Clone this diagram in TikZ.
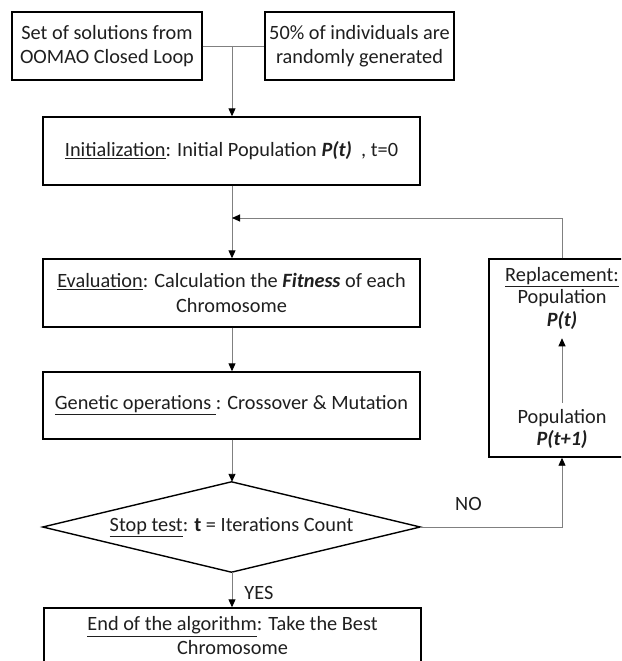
\documentclass[tikz,border=0pt]{standalone}
\usepackage{fontspec}
\setmainfont{Carlito}
\usetikzlibrary{arrows.meta,calc}
\tikzset{
  box/.style={draw=black, line width=1.4pt, fill=white, minimum width=377pt, minimum height=68pt, align=center, inner sep=2pt, text=black!88},
  smallbox/.style={box, minimum width=190pt},
  conn/.style={draw=black!50, line width=0.9pt},
  arr/.style={conn, -{Triangle[width=7pt,length=8pt,color=black]}},
  lbl/.style={align=center, inner sep=1pt, text=black!88},
}
\newcommand{\ulx}[1]{\underline{#1}}
\newcommand{\bi}[1]{\textbf{\textit{#1}}}
\begin{document}
\begin{tikzpicture}[x=1pt,y=-1pt, font=\fontsize{20.3}{24.5}\selectfont]
\clip (0,0) rectangle (621,661);
\fill[white] (0,0) rectangle (621,661);
\node[smallbox] (A) at (107,46) {Set of solutions from\\OOMAO Closed Loop};
\node[smallbox, minimum width=189pt] (B) at (359.5,46) {50\% of individuals are\\randomly generated};
\node[box] (init) at (231.5,151) {\ulx{Initialization}: Initial Population \bi{P(t)}\ \ , t=0};
\node[box] (eval) at (231.5,293) {\ulx{Evaluation}: Calculation the \bi{Fitness} of each\\Chromosome};
\node[box, minimum height=67pt] (gen) at (231.5,405.5) {\ulx{Genetic operations }: Crossover \& Mutation};
\node[minimum width=377pt, minimum height=90pt, inner sep=0pt, text=black!88] (stop) at (231.5,527) {\ulx{Stop test}: \textbf{t} = Iterations Count};
\draw[black, line width=1.4pt, line join=miter] (stop.north) -- (stop.east) -- (stop.south) -- (stop.west) -- cycle;
\node[box, minimum height=56pt, font=\fontsize{20.3}{24}\selectfont] (end) at (232.5,636) {\ulx{End of the algorithm}: Take the Best\\Chromosome};
\node[box, minimum width=146pt, minimum height=198pt] (rep) at (562,358) {};
\node[lbl, font=\fontsize{20.3}{22.5}\selectfont] (repA) at (562,298) {\ulx{Replacement:}\\Population\\\bi{P(t)}};
\node[lbl, font=\fontsize{20.3}{22.5}\selectfont] (repB) at (562,429) {Population\\\bi{P(t+1)}};
\coordinate (j1) at (232,46);
\coordinate (j2) at (232,218);
\draw[conn] (A.east) -- (B.west);
\draw[arr] (j1) -- (init.north -| j1);
\draw[arr] (init.south -| j2) -- (eval.north -| j2);
\draw[arr] (rep.north) |- (j2);
\draw[arr] (eval.south -| j2) -- (gen.north -| j2);
\draw[arr] (gen.south -| j2) -- (stop.north -| j2);
\draw[arr] (stop.south -| j2) -- (end.north -| j2) node[lbl, pos=0.6, anchor=west, xshift=11pt] {YES};
\draw[arr] (stop.east) -| (rep.south) node[lbl, pos=0.17, above=15pt] {NO};
\draw[arr] ($(repB.north)+(0,-5)$) -- ($(repA.south)+(0,8)$);
\end{tikzpicture}
\end{document}
